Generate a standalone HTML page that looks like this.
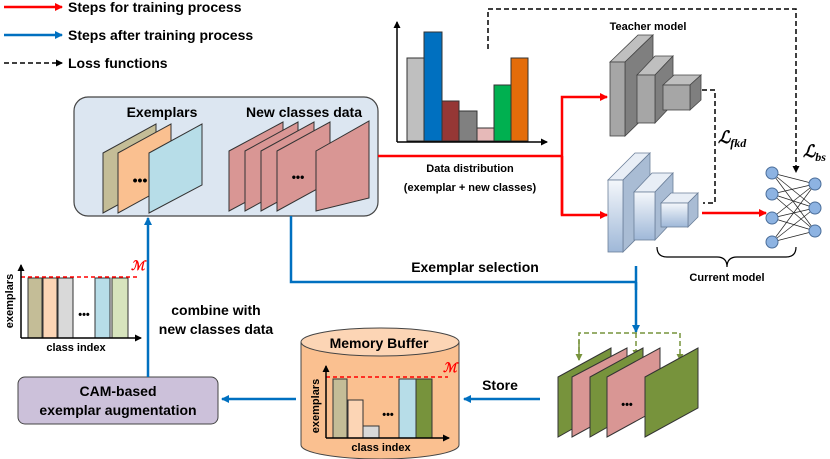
<!DOCTYPE html>
<html><head><meta charset="utf-8"><style>
body{margin:0;background:#fff}
svg{display:block;font-family:"Liberation Sans",Arial,sans-serif;font-weight:bold}
</style></head><body>
<svg width="830" height="459" viewBox="0 0 830 459" xmlns="http://www.w3.org/2000/svg">
<defs>
<marker id="ar" markerWidth="8" markerHeight="8" refX="7" refY="4" orient="auto" markerUnits="userSpaceOnUse"><path d="M0,0L8,4L0,8z" fill="#f00"/></marker>
<marker id="ab" markerWidth="8" markerHeight="8" refX="7" refY="4" orient="auto" markerUnits="userSpaceOnUse"><path d="M0,0L8,4L0,8z" fill="#0070c0"/></marker>
<marker id="ak" markerWidth="7" markerHeight="7" refX="6" refY="3.5" orient="auto" markerUnits="userSpaceOnUse"><path d="M0,0L7,3.5L0,7z" fill="#000"/></marker>
<marker id="ag" markerWidth="7" markerHeight="7" refX="6" refY="3.5" orient="auto" markerUnits="userSpaceOnUse"><path d="M0,0L7,3.5L0,7z" fill="#77933c"/></marker>
<linearGradient id="sg" x1="0" y1="0" x2="0" y2="1"><stop offset="0" stop-color="#f4f7fb"/><stop offset="1" stop-color="#9fb8d8"/></linearGradient>
</defs>
<!-- legend -->
<line x1="4" y1="7" x2="62" y2="7" stroke="#f00" stroke-width="2.5" marker-end="url(#ar)"/>
<text x="68" y="12" font-size="14">Steps for training process</text>
<line x1="4" y1="35" x2="62" y2="35" stroke="#0070c0" stroke-width="2.5" marker-end="url(#ab)"/>
<text x="68" y="40" font-size="14">Steps after training process</text>
<line x1="4" y1="63" x2="62" y2="63" stroke="#000" stroke-width="1.5" stroke-dasharray="5,3" marker-end="url(#ak)"/>
<text x="68" y="68" font-size="14">Loss functions</text>

<!-- main box -->
<rect x="74" y="97" width="304" height="119" rx="14" fill="#dce6f1" stroke="#444" stroke-width="1.2"/>
<text x="162" y="117" font-size="14" text-anchor="middle">Exemplars</text>
<text x="304" y="117" font-size="14" text-anchor="middle">New classes data</text>
<g stroke="#333" stroke-width="1">
<path d="M103,153L156,124L156,184L103,213z" fill="#c4bd97"/>
<path d="M118,153L171,124L171,184L118,213z" fill="#fac090"/>
<path d="M149,153L202,124L202,185L149,213z" fill="#b7dde8"/>
<path d="M229,151L283,122L283,182L229,211z" fill="#d99694"/>
<path d="M245,151L298,122L298,182L245,211z" fill="#d99694"/>
<path d="M261,151L314,122L314,182L261,211z" fill="#d99694"/>
<path d="M277,151L330,122L330,182L277,211z" fill="#d99694"/>
<path d="M316,151L369,121L369,198L316,211z" fill="#d99694"/>
</g>
<text x="140" y="185" font-size="14" text-anchor="middle">•••</text>
<text x="298" y="181" font-size="12" text-anchor="middle">•••</text>

<!-- histogram -->
<g stroke="#333" stroke-width="1">
<rect x="407" y="58" width="17" height="83" fill="#bfbfbf"/>
<rect x="424" y="32" width="18" height="109" fill="#0070c0"/>
<rect x="442" y="101" width="17" height="40" fill="#953735"/>
<rect x="459" y="111" width="18" height="30" fill="#808080"/>
<rect x="477" y="128" width="17" height="13" fill="#e6b9b8"/>
<rect x="494" y="85" width="17" height="56" fill="#00b050"/>
<rect x="511" y="58" width="17" height="83" fill="#e46c0a"/>
</g>
<line x1="397" y1="142" x2="397" y2="22" stroke="#000" stroke-width="1.5" marker-end="url(#ak)"/>
<line x1="397" y1="142" x2="547" y2="142" stroke="#000" stroke-width="1.5" marker-end="url(#ak)"/>
<text x="470" y="172" font-size="11" text-anchor="middle">Data distribution</text>
<text x="470" y="191" font-size="11" text-anchor="middle">(exemplar + new classes)</text>

<!-- red lines -->
<polyline points="378,156 562,156" fill="none" stroke="#f00" stroke-width="2.5"/>
<polyline points="562,215 562,97 607,97" fill="none" stroke="#f00" stroke-width="2.5" marker-end="url(#ar)"/>
<polyline points="562,156 562,215 607,215" fill="none" stroke="#f00" stroke-width="2.5" marker-end="url(#ar)"/>
<line x1="702" y1="213" x2="766" y2="213" stroke="#f00" stroke-width="2.5" marker-end="url(#ar)"/>

<!-- teacher -->
<text x="648" y="30" font-size="11" text-anchor="middle">Teacher model</text>
<g stroke="#444" stroke-width="0.8">
<path d="M610,62L638,35L653,35L625,62z" fill="#bfbfbf"/><path d="M625,62L653,35L653,109L625,136z" fill="#7f7f7f"/><rect x="610" y="62" width="15" height="74" fill="#a6a6a6"/>
<path d="M637,75L655,56L673,56L655,75z" fill="#bfbfbf"/><path d="M655,75L673,56L673,104L655,123z" fill="#7f7f7f"/><rect x="637" y="75" width="18" height="48" fill="#a6a6a6"/>
<path d="M663,85L674,75L701,75L690,85z" fill="#bfbfbf"/><path d="M690,85L701,75L701,100L690,110z" fill="#7f7f7f"/><rect x="663" y="85" width="27" height="25" fill="#a6a6a6"/>
</g>
<!-- student -->
<g stroke="#6b7f99" stroke-width="0.8">
<path d="M608,180L635,153L650,153L623,180z" fill="#e8eef6"/><path d="M623,180L650,153L650,225L623,252z" fill="#a9bcd4"/><rect x="608" y="180" width="15" height="72" fill="url(#sg)"/>
<path d="M634,192L652,173L673,173L655,192z" fill="#e8eef6"/><path d="M655,192L673,173L673,221L655,240z" fill="#a9bcd4"/><rect x="634" y="192" width="21" height="48" fill="url(#sg)"/>
<path d="M661,203L671,193L698,193L688,203z" fill="#e8eef6"/><path d="M688,203L698,193L698,217L688,227z" fill="#a9bcd4"/><rect x="661" y="203" width="27" height="24" fill="url(#sg)"/>
</g>
<!-- dashed losses -->
<polyline points="702,90 715,90 715,203 703,203" fill="none" stroke="#000" stroke-width="1.5" stroke-dasharray="5,3"/>
<text x="718" y="143" font-size="17" font-family="Liberation Serif,serif" font-style="italic">ℒ<tspan font-size="12" dy="4">fkd</tspan></text>
<polyline points="488,49 488,9 796,9 796,172" fill="none" stroke="#000" stroke-width="1.5" stroke-dasharray="5,3" marker-end="url(#ak)"/>
<text x="803" y="157" font-size="17" font-family="Liberation Serif,serif" font-style="italic">ℒ<tspan font-size="12" dy="4">bs</tspan></text>
<!-- NN -->
<g stroke="#222" stroke-width="0.7">
<line x1="772" y1="173" x2="815" y2="184"/><line x1="772" y1="173" x2="815" y2="208"/><line x1="772" y1="173" x2="815" y2="231"/>
<line x1="772" y1="194" x2="815" y2="184"/><line x1="772" y1="194" x2="815" y2="208"/><line x1="772" y1="194" x2="815" y2="231"/>
<line x1="772" y1="218" x2="815" y2="184"/><line x1="772" y1="218" x2="815" y2="208"/><line x1="772" y1="218" x2="815" y2="231"/>
<line x1="772" y1="242" x2="815" y2="184"/><line x1="772" y1="242" x2="815" y2="208"/><line x1="772" y1="242" x2="815" y2="231"/>
</g>
<g fill="#8db3e2" stroke="#4a6d99" stroke-width="1">
<circle cx="772" cy="173" r="6"/><circle cx="772" cy="194" r="6"/><circle cx="772" cy="218" r="6"/><circle cx="772" cy="242" r="6"/>
<circle cx="815" cy="184" r="6"/><circle cx="815" cy="208" r="6"/><circle cx="815" cy="231" r="6"/>
</g>
<path d="M657,247Q657,257 667,257L717,257Q727,257 727,267Q727,257 737,257L786,257Q796,257 796,247" fill="none" stroke="#000" stroke-width="1.2"/>
<text x="727" y="281" font-size="11" text-anchor="middle">Current model</text>

<!-- blue flows -->
<polyline points="291,216 291,282 636,282" fill="none" stroke="#0070c0" stroke-width="2.5"/>
<line x1="636" y1="266" x2="636" y2="290" stroke="#0070c0" stroke-width="2.5"/>
<line x1="636" y1="282" x2="636" y2="332" stroke="#0070c0" stroke-width="2.5" marker-end="url(#ab)"/>
<text x="475" y="272" font-size="14" text-anchor="middle">Exemplar selection</text>
<polyline points="579,360 579,333 680,333 680,360" fill="none" stroke="#77933c" stroke-width="1.5" stroke-dasharray="5,3" marker-end="url(#ag)"/>
<line x1="579" y1="340" x2="579" y2="360" stroke="#77933c" stroke-width="1.5" marker-end="url(#ag)"/>
<line x1="636" y1="333" x2="636" y2="356" stroke="#77933c" stroke-width="1.5" stroke-dasharray="5,3" marker-end="url(#ag)"/>
<g stroke="#333" stroke-width="1">
<path d="M558,377L611,348L611,407L558,437z" fill="#77933c"/>
<path d="M572,377L627,348L627,407L572,437z" fill="#d99694"/>
<path d="M590,377L643,348L643,407L590,437z" fill="#77933c"/>
<path d="M607,377L660,348L660,408L607,437z" fill="#d99694"/>
<path d="M645,377L698,348L698,408L645,437z" fill="#77933c"/>
</g>
<text x="627" y="408" font-size="11" text-anchor="middle">•••</text>
<line x1="540" y1="399" x2="464" y2="399" stroke="#0070c0" stroke-width="2.5" marker-end="url(#ab)"/>
<text x="500" y="390" font-size="14" text-anchor="middle">Store</text>

<!-- cylinder -->
<path d="M301,342L301,445A79,14 0 0 0 459,445L459,342z" fill="#fac090" stroke="#444" stroke-width="1"/>
<ellipse cx="380" cy="342" rx="79" ry="14" fill="#fcd5b5" stroke="#444" stroke-width="1"/>
<text x="379" y="348" font-size="14" text-anchor="middle">Memory Buffer</text>
<g stroke="#333" stroke-width="1">
<rect x="333" y="379" width="14" height="59" fill="#c4bd97"/>
<rect x="348" y="400" width="15" height="38" fill="#fcd5b5"/>
<rect x="363" y="426" width="16" height="12" fill="#d9d9d9"/>
<rect x="399" y="379" width="17" height="59" fill="#b7dde8"/>
<rect x="416" y="379" width="16" height="59" fill="#77933c"/>
</g>
<line x1="326" y1="377" x2="448" y2="377" stroke="#f00" stroke-width="1.5" stroke-dasharray="4,3"/>
<text x="443" y="372" font-size="13" fill="#f00" font-family="Liberation Serif,serif" font-style="italic">ℳ</text>
<text x="388" y="418" font-size="11" text-anchor="middle">•••</text>
<line x1="326" y1="438" x2="326" y2="366" stroke="#000" stroke-width="1.5" marker-end="url(#ak)"/>
<line x1="326" y1="438" x2="449" y2="438" stroke="#000" stroke-width="1.5" marker-end="url(#ak)"/>
<text x="381" y="451" font-size="11" text-anchor="middle">class index</text>
<text transform="translate(319,406) rotate(-90)" font-size="11" text-anchor="middle">exemplars</text>

<line x1="296" y1="399" x2="222" y2="399" stroke="#0070c0" stroke-width="2.5" marker-end="url(#ab)"/>
<rect x="18" y="377" width="200" height="47" rx="7" fill="#ccc1da" stroke="#444" stroke-width="1"/>
<text x="118" y="396" font-size="14" text-anchor="middle">CAM-based</text>
<text x="118" y="415" font-size="14" text-anchor="middle">exemplar augmentation</text>
<line x1="148" y1="377" x2="148" y2="218" stroke="#0070c0" stroke-width="2.5" marker-end="url(#ab)"/>
<text x="216" y="315" font-size="14" text-anchor="middle">combine with</text>
<text x="216" y="334" font-size="14" text-anchor="middle">new classes data</text>

<!-- left chart -->
<g stroke="#333" stroke-width="1">
<rect x="28" y="278" width="14" height="60" fill="#c4bd97"/>
<rect x="43" y="278" width="14" height="60" fill="#fcd5b5"/>
<rect x="58" y="278" width="15" height="60" fill="#d9d9d9"/>
<rect x="95" y="278" width="15" height="60" fill="#b7dde8"/>
<rect x="112" y="278" width="16" height="60" fill="#d7e4bd"/>
</g>
<line x1="21" y1="277" x2="140" y2="277" stroke="#f00" stroke-width="1.5" stroke-dasharray="4,3"/>
<text x="131" y="270" font-size="13" fill="#f00" font-family="Liberation Serif,serif" font-style="italic">ℳ</text>
<text x="84" y="318" font-size="11" text-anchor="middle">•••</text>
<line x1="21" y1="338" x2="21" y2="265" stroke="#000" stroke-width="1.5" marker-end="url(#ak)"/>
<line x1="21" y1="338" x2="141" y2="338" stroke="#000" stroke-width="1.5" marker-end="url(#ak)"/>
<text x="76" y="351" font-size="11" text-anchor="middle">class index</text>
<text transform="translate(13,301) rotate(-90)" font-size="11" text-anchor="middle">exemplars</text>
</svg>
</body></html>
